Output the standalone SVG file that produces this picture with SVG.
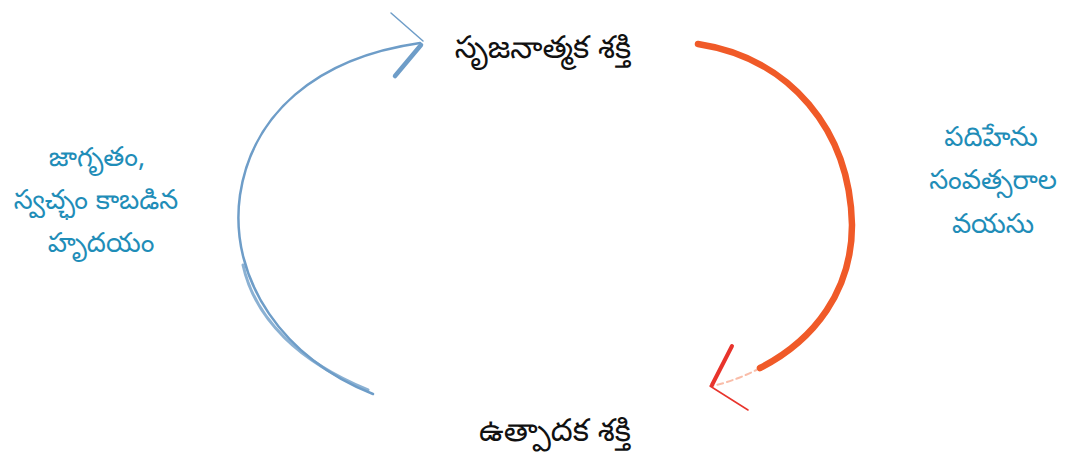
<svg xmlns="http://www.w3.org/2000/svg" width="1073" height="457" viewBox="0 0 1073 457">
<style>
.t{font-family:"Noto Sans Telugu","Noto Sans","DejaVu Sans",sans-serif;text-anchor:middle}
.k{fill:#111;font-size:31px}
.b{fill:#1f8db8;font-size:27px}
.blue{fill:none;stroke:#6e9dc8;stroke-linecap:round}
.or{fill:none;stroke:#f05a28;stroke-linecap:round}
</style>
<rect width="1073" height="457" fill="#fff"/>
<g id="connectors">
<path class="blue" stroke-width="2.5" d="M373 394 C285 360 228 280 240 195 C252 115 315 58 420 43"/>
<path class="blue" stroke-width="3" stroke-opacity="0.8" d="M368 390 C300 362 255 320 243 265"/>
<path class="blue" stroke-width="1.5" d="M391 13 L423 41"/>
<path class="blue" stroke-width="4.5" d="M395 76 L421 45"/>
<path class="or" stroke-width="6.5" d="M698 44 C790 58 850 130 852 225 C852 290 815 340 760 368"/>
<path class="or" stroke-width="2" stroke-opacity="0.4" stroke-dasharray="6 4" d="M760 368 C745 376 730 382 712 386"/>
<path fill="none" stroke="#e8342c" stroke-width="4" stroke-linecap="round" d="M732 346 L712 385"/>
<path fill="none" stroke="#e8342c" stroke-width="1.5" stroke-linecap="round" d="M710 386 L748 410"/>
</g>
<g id="node-top"><text class="t k" x="543" y="58">సృజనాత్మక శక్తి</text></g>
<g id="node-bottom"><text class="t k" x="555" y="441">ఉత్పాదక శక్తి</text></g>
<g id="node-left">
<text class="t b" x="97" y="166">జాగృతం,</text>
<text class="t b" x="96" y="209">స్వచ్ఛం కాబడిన</text>
<text class="t b" x="101" y="252">హృదయం</text>
</g>
<g id="node-right">
<text class="t b" x="991" y="146">పదిహేను</text>
<text class="t b" x="993" y="189">సంవత్సరాల</text>
<text class="t b" x="993" y="233">వయసు</text>
</g>
</svg>
